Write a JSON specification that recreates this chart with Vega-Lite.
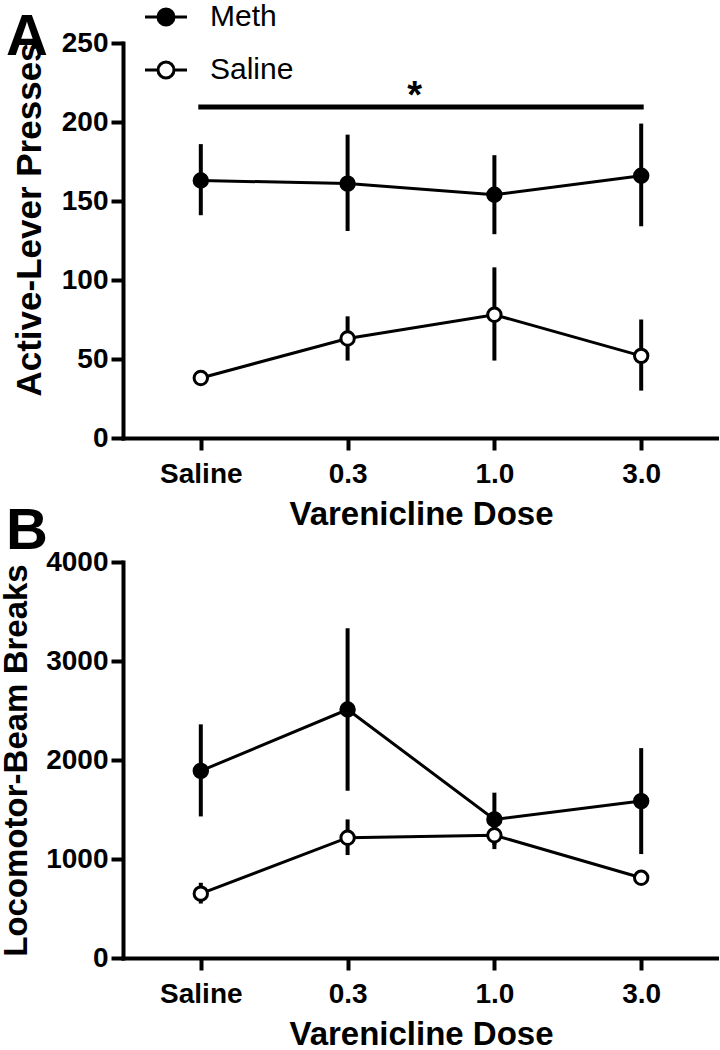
{
  "$schema": "https://vega.github.io/schema/vega-lite/v6.json",
  "padding": {"left": 0, "top": 2, "right": 0, "bottom": 0},
  "background": "white",
  "bounds": "flush",
  "spacing": 124,
  "config": {
    "font": "Liberation Sans",
    "view": {"stroke": null},
    "axis": {
      "domainColor": "black", "domainWidth": 4, "domainCap": "square",
      "tickColor": "black", "tickWidth": 4, "tickSize": 12,
      "labelFont": "Liberation Sans", "labelFontWeight": "bold", "labelFontSize": 28, "labelColor": "black",
      "titleFont": "Liberation Sans", "titleFontWeight": "bold", "titleFontSize": 33, "titleColor": "black",
      "grid": false
    },
    "title": {"font": "Liberation Sans", "fontWeight": "bold", "fontSize": 58, "color": "black", "anchor": "start", "frame": "group"}
  },
  "datasets": {
    "lever": [
      {"group": "Meth", "dose": "Saline", "mean": 163, "lo": 141, "hi": 186},
      {"group": "Meth", "dose": "0.3", "mean": 161, "lo": 131, "hi": 192},
      {"group": "Meth", "dose": "1.0", "mean": 154, "lo": 129, "hi": 179},
      {"group": "Meth", "dose": "3.0", "mean": 166, "lo": 134, "hi": 199},
      {"group": "Saline", "dose": "Saline", "mean": 38, "lo": 35, "hi": 41},
      {"group": "Saline", "dose": "0.3", "mean": 63, "lo": 49, "hi": 77},
      {"group": "Saline", "dose": "1.0", "mean": 78, "lo": 49, "hi": 108},
      {"group": "Saline", "dose": "3.0", "mean": 52, "lo": 30, "hi": 75}
    ],
    "loco": [
      {"group": "Meth", "dose": "Saline", "mean": 1890, "lo": 1430, "hi": 2360},
      {"group": "Meth", "dose": "0.3", "mean": 2510, "lo": 1690, "hi": 3330},
      {"group": "Meth", "dose": "1.0", "mean": 1400, "lo": 1140, "hi": 1670},
      {"group": "Meth", "dose": "3.0", "mean": 1585, "lo": 1050, "hi": 2120},
      {"group": "Saline", "dose": "Saline", "mean": 650, "lo": 550, "hi": 760},
      {"group": "Saline", "dose": "0.3", "mean": 1215, "lo": 1040, "hi": 1400},
      {"group": "Saline", "dose": "1.0", "mean": 1240, "lo": 1100, "hi": 1380},
      {"group": "Saline", "dose": "3.0", "mean": 810, "lo": 770, "hi": 850}
    ]
  },
  "vconcat": [
    {
      "width": 596,
      "height": 395,
      "title": {"text": "A", "dx": -117, "offset": -84, "baseline": "alphabetic"},
      "data": {"name": "lever"},
      "layer": [
        {
          "mark": {"type": "rule", "strokeWidth": 4, "color": "black"},
          "encoding": {
            "x": {"field": "dose", "type": "ordinal",
                  "scale": {"type": "point", "domain": ["Saline", "0.3", "1.0", "3.0"], "padding": 0.53},
                  "axis": {"title": "Varenicline Dose", "labelAngle": 0, "labelPadding": 10, "titlePadding": 10}},
            "y": {"field": "lo", "type": "quantitative",
                  "scale": {"domain": [0, 250], "nice": false},
                  "axis": {"title": "Active-Lever Presses", "values": [0, 50, 100, 150, 200, 250], "labelPadding": 3, "titlePadding": 14, "titleY": 176, "titleFontSize": 35}},
            "y2": {"field": "hi"}
          }
        },
        {
          "mark": {"type": "line", "strokeWidth": 3, "color": "black"},
          "encoding": {
            "x": {"field": "dose", "type": "ordinal"},
            "y": {"field": "mean", "type": "quantitative"},
            "detail": {"field": "group"}
          }
        },
        {
          "mark": {"type": "point", "shape": "circle", "filled": true, "size": 180, "stroke": "black", "strokeWidth": 3, "opacity": 1},
          "encoding": {
            "x": {"field": "dose", "type": "ordinal"},
            "y": {"field": "mean", "type": "quantitative"},
            "fill": {"field": "group", "type": "nominal",
                     "scale": {"domain": ["Meth", "Saline"], "range": ["black", "white"]},
                     "legend": {"orient": "none", "legendX": 28, "legendY": -41, "title": null,
                                "symbolType": "M-2.1,0L-0.8,0M0.8,0L2.1,0M-0.8,0A0.8,0.8,0,1,1,0.8,0A0.8,0.8,0,1,1,-0.8,0Z",
                                "symbolSize": 400, "symbolStrokeColor": "black", "symbolStrokeWidth": 3,
                                "labelFont": "Liberation Sans", "labelFontSize": 30, "labelColor": "black",
                                "labelOffset": 29, "rowPadding": 23}}
          }
        },
        {
          "data": {"values": [{"from": "Saline", "to": "3.0", "level": 209.5}]},
          "mark": {"type": "rule", "strokeWidth": 5, "strokeCap": "square", "color": "black"},
          "encoding": {
            "x": {"field": "from", "type": "ordinal"},
            "x2": {"field": "to"},
            "y": {"field": "level", "type": "quantitative"}
          }
        },
        {
          "data": {"values": [{"dose": "0.3", "level": 216, "mark": "*"}]},
          "mark": {"type": "text", "dx": 67, "fontSize": 38, "fontWeight": "bold", "color": "black", "baseline": "middle"},
          "encoding": {
            "x": {"field": "dose", "type": "ordinal"},
            "y": {"field": "level", "type": "quantitative"},
            "text": {"field": "mark"}
          }
        }
      ]
    },
    {
      "width": 596,
      "height": 396,
      "title": {"text": "B", "dx": -117, "offset": -59, "baseline": "alphabetic"},
      "data": {"name": "loco"},
      "layer": [
        {
          "mark": {"type": "rule", "strokeWidth": 4, "color": "black"},
          "encoding": {
            "x": {"field": "dose", "type": "ordinal",
                  "scale": {"type": "point", "domain": ["Saline", "0.3", "1.0", "3.0"], "padding": 0.53},
                  "axis": {"title": "Varenicline Dose", "labelAngle": 0, "labelPadding": 10, "titlePadding": 10}},
            "y": {"field": "lo", "type": "quantitative",
                  "scale": {"domain": [0, 4000], "nice": false},
                  "axis": {"title": "Locomotor-Beam Breaks", "values": [0, 1000, 2000, 3000, 4000], "format": "d", "labelPadding": 3, "titlePadding": 12}},
            "y2": {"field": "hi"}
          }
        },
        {
          "mark": {"type": "line", "strokeWidth": 3, "color": "black"},
          "encoding": {
            "x": {"field": "dose", "type": "ordinal"},
            "y": {"field": "mean", "type": "quantitative"},
            "detail": {"field": "group"}
          }
        },
        {
          "mark": {"type": "point", "shape": "circle", "filled": true, "size": 180, "stroke": "black", "strokeWidth": 3, "opacity": 1},
          "encoding": {
            "x": {"field": "dose", "type": "ordinal"},
            "y": {"field": "mean", "type": "quantitative"},
            "fill": {"field": "group", "type": "nominal",
                     "scale": {"domain": ["Meth", "Saline"], "range": ["black", "white"]},
                     "legend": null}
          }
        }
      ]
    }
  ]
}
